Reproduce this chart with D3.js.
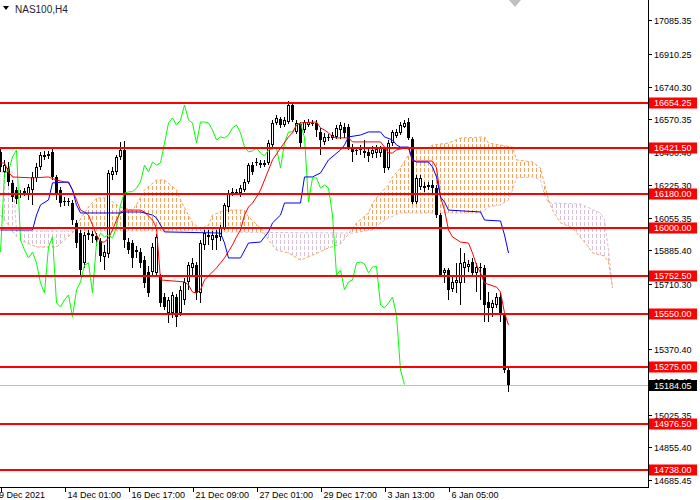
<!DOCTYPE html>
<html><head><meta charset="utf-8">
<script src="https://cdn.jsdelivr.net/npm/d3@7"></script>
<style>
html,body{margin:0;padding:0;background:#fff;}
svg{display:block;font-family:"Liberation Sans",Arial,sans-serif;}
</style></head><body>
<script>
// NAS100 H4 candles (bar index 0..127)
var barOpen  = [16399,16294,16315,16237,16200,16174,16184,16174,16200,16263,16320,16372,16378,16399,16268,16200,16137,16143,16132,16028,
                15975,15819,15965,15970,15960,15934,15850,15866,16278,16294,16372,16409,15928,15923,15887,15876,15834,15772,15772,15767,
                15746,15641,15558,15558,15641,15558,15626,15720,15793,15808,15662,15913,15965,15939,15965,15955,16002,16111,16184,16190,
                16184,16200,16242,16330,16341,16341,16330,16341,16435,16550,16571,16539,16555,16644,16503,16545,16513,16539,16545,16550,
                16503,16451,16477,16472,16477,16513,16529,16529,16424,16409,16409,16404,16399,16388,16393,16393,16414,16315,16445,16482,
                16498,16529,16555,16466,16137,16216,16221,16216,16226,16210,16069,15767,15782,15683,15714,15714,15793,15798,15824,15767,
                15798,15793,15615,15584,15599,15641,15547,15260];
var barHigh  = [16419,16357,16346,16252,16216,16200,16210,16231,16294,16341,16399,16404,16404,16419,16278,16216,16163,16158,16148,16043,
                15991,15981,15991,15986,15975,15949,15913,16304,16320,16383,16451,16456,15949,15939,15908,15897,15855,15803,15923,15970,
                15761,15662,15641,15667,15657,15699,15740,15824,15845,15824,15939,15991,15991,15986,15991,16017,16132,16200,16210,16205,
                16226,16258,16341,16346,16367,16357,16357,16461,16565,16591,16581,16581,16665,16659,16565,16555,16565,16571,16565,16565,
                16524,16498,16492,16503,16539,16555,16550,16545,16440,16424,16435,16461,16419,16430,16435,16430,16424,16461,16513,16518,
                16555,16565,16576,16477,16278,16278,16242,16242,16252,16226,16080,15793,15793,15756,15819,15897,15871,15834,15845,15819,
                15819,15808,15667,15626,15662,15662,15558,15270];
var barLow   = [16294,16268,16221,16137,16127,16158,16169,16148,16122,16242,16304,16357,16362,16252,16148,16111,16116,16116,16017,15897,
                15751,15793,15939,15923,15908,15824,15782,15845,16252,16278,16357,15897,15866,15793,15845,15793,15688,15641,15756,15751,
                15589,15573,15505,15532,15484,15542,15599,15678,15756,15626,15610,15887,15913,15887,15887,15934,15991,16085,16169,16174,
                16163,16190,16231,16278,16325,16315,16320,16330,16424,16539,16524,16529,16545,16555,16492,16424,16498,16529,16534,16477,
                16383,16435,16456,16461,16466,16466,16472,16409,16346,16383,16383,16367,16346,16367,16367,16372,16289,16304,16430,16472,
                16487,16524,16461,16127,16127,16200,16190,16200,16184,16054,15751,15714,15626,15667,15662,15599,15714,15772,15751,15667,
                15626,15511,15511,15537,15584,15511,15244,15145];
var barClose = [16320,16330,16242,16163,16153,16184,16195,16216,16268,16320,16383,16383,16388,16268,16174,16132,16143,16137,16043,15923,
                15782,15965,15975,15960,15939,15855,15876,16289,16299,16372,16409,15939,15887,15845,15876,15819,15714,15662,15902,15955,
                15610,15589,15626,15652,15537,15678,15720,15808,15819,15662,15923,15975,15955,15965,15949,16007,16122,16184,16190,16191,
                16210,16242,16330,16294,16346,16330,16341,16445,16550,16576,16539,16565,16644,16565,16550,16445,16555,16555,16550,16513,
                16461,16477,16472,16487,16524,16539,16498,16424,16399,16404,16419,16393,16378,16409,16414,16419,16315,16445,16503,16503,
                16539,16550,16472,16137,16263,16263,16210,16226,16210,16069,15756,15782,15678,15720,15730,15819,15824,15814,15767,15798,
                15800,15599,15584,15610,15641,15547,15260,15184.05];

// Ichimoku lines: [bar, price]
var tenkan = [[0,16341],[1,16341],[2,16294],[3,16268],[8,16263],[12,16268],[14,16252],[16,16242],[17,16237],[18,16200],[19,16148],
              [20,16095],[21,16085],[22,16069],[23,16017],[24,15965],[25,15928],[26,15928],[27,15949],[28,15991],[29,16043],[30,16085],
              [31,16095],[35,16095],[36,16085],[38,16043],[39,16002],[40,15730],[46,15720],[47,15704],[48,15667],[49,15662],[50,15678],
              [51,15730],[52,15751],[54,15793],[56,15845],[58,15913],[59,15955],[60,15991],[61,16069],[62,16111],[63,16132],[64,16163],
              [65,16200],[66,16252],[67,16304],[68,16357],[70,16419],[72,16477],[73,16498],[74,16539],[75,16550],[79,16555],[80,16524],
              [81,16513],[82,16498],[83,16477],[84,16472],[87,16472],[88,16451],[95,16451],[96,16424],[97,16393],[98,16393],[99,16409],
              [101,16419],[102,16419],[103,16351],[108,16351],[109,16315],[110,16163],[111,16095],[112,15991],[113,15955],[115,15928],
              [117,15923],[118,15871],[119,15808],[120,15767],[121,15714],[124,15693],[125,15667],[126,15558],[127,15495]];
var kijun  = [[0,15991],[8,15991],[9,16069],[10,16122],[12,16148],[13,16237],[17,16242],[18,16200],[19,16122],[20,16080],[30,16080],
              [31,16085],[35,16085],[36,16080],[38,16069],[39,16054],[40,16017],[41,15981],[55,15975],[56,15923],[57,15845],[60,15845],
              [62,15923],[65,15928],[67,15981],[68,16028],[70,16069],[71,16132],[75,16132],[76,16268],[78,16268],[80,16289],[82,16357],
              [85,16409],[86,16435],[87,16477],[90,16487],[92,16503],[95,16503],[96,16477],[98,16461],[99,16435],[100,16424],[102,16424],
              [103,16357],[104,16346],[107,16346],[108,16320],[109,16268],[110,16163],[111,16137],[112,16095],[120,16085],[121,16043],
              [125,16038],[126,15965],[127,15871]];
var spanA  = [[0,16069],[2,16017],[3,15981],[5,15939],[9,15902],[14,15902],[16,15939],[18,15975],[19,16017],[22,16111],[24,16158],
              [27,16158],[28,16137],[30,16111],[33,16095],[34,16122],[36,16200],[39,16252],[41,16252],[44,16200],[45,16148],[48,16028],
              [50,15996],[52,16017],[53,16069],[56,16095],[61,16095],[62,16059],[65,16002],[67,15939],[69,15887],[72,15871],[75,15834],
              [78,15860],[82,15897],[85,15918],[87,15970],[89,16028],[92,16080],[93,16132],[95,16184],[97,16226],[98,16268],[100,16315],
              [102,16383],[103,16414],[107,16419],[108,16435],[112,16445],[115,16471],[121,16477],[122,16445],[128,16424],[129,16357],
              [133,16346],[135,16315],[137,16148],[138,16095],[140,16028],[143,16002],[147,15902],[148,15871],[151,15855],[152,15824],
              [153,15688]];
var spanB  = [[0,16294],[3,16294],[4,15986],[50,15986],[51,15981],[88,15975],[93,15991],[95,16028],[97,16054],[100,16080],
              [120,16080],[122,16111],[125,16122],[127,16148],[128,16200],[129,16263],[133,16268],[135,16252],[136,16174],[137,16132],
              [145,16127],[150,16080],[151,16043],[152,15887],[153,15688]];

// horizontal levels and axis texts (15540.35 sits fully under the 15550.00 label, so it is left out)
var levels     = [16654.25, 16421.50, 16180.00, 16000.00, 15752.50, 15550.00, 15275.00, 14976.50, 14738.00];
var lastPrice  = 15184.05;
var priceTicks = [17085.35, 16910.25, 16740.30, 16570.35, 16400.40, 16225.30, 16055.35, 15885.40, 15710.30,
                  15370.40, 15200.45, 15025.35, 14855.40, 14685.45];
var timeBars   = [0, 16, 32, 48, 64, 80, 96, 112];
var timeLabels = ["9 Dec 2021", "14 Dec 01:00", "16 Dec 17:00", "21 Dec 09:00", "27 Dec 01:00",
                  "29 Dec 17:00", "3 Jan 13:00", "6 Jan 05:00"];

var W = 700, H = 500, plotW = 648, plotH = 487;

var x = d3.scaleLinear().domain([-0.125, 161.875]).range([0, plotW]);
var y = d3.scaleLinear().domain([14649, 17192]).range([plotH, 0]);

var svg = d3.select("body").append("svg").attr("width", W).attr("height", H);

var defs = svg.append("defs");
function hatch(id, col) {
    var p = defs.append("pattern").attr("id", id).attr("patternUnits", "userSpaceOnUse")
        .attr("width", 4).attr("height", 6);
    p.append("line").attr("x1", 0.5).attr("x2", 0.5).attr("y1", 0).attr("y2", 4)
        .attr("stroke", col).attr("stroke-width", 1);
}
hatch("hUp", "#F4A460");
hatch("hDn", "#D8BFD8");
defs.append("clipPath").attr("id", "plot").append("rect").attr("width", plotW).attr("height", plotH);

var line = d3.line().x(function(d){ return x(d[0]); }).y(function(d){ return y(d[1]); });

// cloud: region between span A and span B, split by which one is on top
var between = line(spanA) + "L" + line(spanB.slice().reverse()).slice(1) + "Z";
var bEnd = spanB[spanB.length-1][0], bStart = spanB[0][0];
defs.append("clipPath").attr("id", "aboveB").append("path")
    .attr("d", line(spanB) + "L" + x(bEnd) + ",0L" + x(bStart) + ",0Z");
defs.append("clipPath").attr("id", "belowB").append("path")
    .attr("d", line(spanB) + "L" + x(bEnd) + "," + plotH + "L" + x(bStart) + "," + plotH + "Z");

var g = svg.append("g").attr("clip-path", "url(#plot)");
g.append("g").attr("clip-path", "url(#aboveB)").append("path").attr("d", between).attr("fill", "url(#hUp)");
g.append("g").attr("clip-path", "url(#belowB)").append("path").attr("d", between).attr("fill", "url(#hDn)");
g.append("path").attr("d", line(spanA)).attr("fill", "none").attr("stroke", "#F4A460").attr("stroke-dasharray", "3,2");
g.append("path").attr("d", line(spanB)).attr("fill", "none").attr("stroke", "#D8BFD8").attr("stroke-dasharray", "3,2");

// current price line
g.append("line").attr("x1", 0).attr("x2", plotW)
    .attr("y1", Math.round(y(lastPrice)) + 0.5).attr("y2", Math.round(y(lastPrice)) + 0.5)
    .attr("stroke", "#C0C0C0");

// candles
var cg = g.append("g").attr("shape-rendering", "crispEdges");
barClose.forEach(function(c, i) {
    var o = barOpen[i], cx = Math.round(x(i) - 0.5) + 0.5;
    var top = Math.round(y(Math.max(o, c))), bot = Math.round(y(Math.min(o, c)));
    cg.append("line").attr("x1", cx).attr("x2", cx)
        .attr("y1", Math.round(y(barHigh[i]))).attr("y2", Math.round(y(barLow[i])))
        .attr("stroke", "#000");
    if (bot - top < 2) {
        cg.append("rect").attr("x", cx - 1.5).attr("width", 3).attr("y", top).attr("height", Math.max(1, bot - top)).attr("fill", "#000");
    } else if (c >= o) {
        cg.append("rect").attr("x", cx - 1).attr("width", 2).attr("y", top + 0.5).attr("height", bot - top - 1)
            .attr("fill", "#fff").attr("stroke", "#000");
    } else {
        cg.append("rect").attr("x", cx - 1.5).attr("width", 3).attr("y", top).attr("height", bot - top).attr("fill", "#000");
    }
});

// ichimoku lines
var chikou = barClose.slice(26).map(function(c, i){ return [i, c]; });
g.append("path").attr("d", line(chikou)).attr("fill", "none").attr("stroke", "#00FF00");
g.append("path").attr("d", line(tenkan)).attr("fill", "none").attr("stroke", "#FF0000");
g.append("path").attr("d", line(kijun)).attr("fill", "none").attr("stroke", "#0000FF");

// horizontal levels
g.selectAll(".lvl").data(levels).enter().append("line")
    .attr("x1", 0).attr("x2", plotW)
    .attr("y1", function(d){ return Math.round(y(d)); }).attr("y2", function(d){ return Math.round(y(d)); })
    .attr("stroke", "#FF0000").attr("stroke-width", 2);

// frame
svg.append("line").attr("x1", plotW + 0.5).attr("x2", plotW + 0.5).attr("y1", 0).attr("y2", plotH + 1).attr("stroke", "#000");
svg.append("line").attr("x1", 0).attr("x2", plotW + 1).attr("y1", plotH + 0.5).attr("y2", plotH + 0.5).attr("stroke", "#000");

// price axis
var ax = svg.append("g").attr("font-size", 9);
priceTicks.forEach(function(v) {
    var yy = Math.round(y(v)) + 0.5;
    ax.append("line").attr("x1", plotW).attr("x2", plotW + 4).attr("y1", yy).attr("y2", yy).attr("stroke", "#000");
    ax.append("text").attr("x", 654).attr("y", yy).attr("dy", "0.35em").attr("fill", "#000").text(d3.format(".2f")(v));
});
levels.forEach(function(v) {
    var yy = Math.round(y(v));
    ax.append("rect").attr("x", 649).attr("y", yy - 5.5).attr("width", 48).attr("height", 11).attr("fill", "#FF0000");
    ax.append("text").attr("x", 654).attr("y", yy).attr("dy", "0.35em").attr("fill", "#fff").text(d3.format(".2f")(v));
});
var ly = Math.round(y(lastPrice));
ax.append("rect").attr("x", 649).attr("y", ly - 5).attr("width", 48).attr("height", 11).attr("fill", "#000");
ax.append("text").attr("x", 654).attr("y", ly + 0.5).attr("dy", "0.35em").attr("fill", "#fff").text(d3.format(".2f")(lastPrice));

// time axis
var tx = svg.append("g").attr("font-size", 9);
timeBars.forEach(function(b, k) {
    var xx = Math.round(x(b)) + 0.5;
    tx.append("line").attr("x1", xx).attr("x2", xx).attr("y1", plotH).attr("y2", plotH + 5).attr("stroke", "#000");
    tx.append("text").attr("x", k === 0 ? -1 : xx + 2).attr("y", 498).attr("fill", "#000").text(timeLabels[k]);
});

// title and chart shift marker
svg.append("path").attr("d", "M3,6L9,6L6,10Z").attr("fill", "#000");
svg.append("text").attr("x", 15).attr("y", 13).attr("font-size", 10).attr("fill", "#1b2433").text("NAS100,H4");
svg.append("path").attr("d", "M509,0L521,0L515,7Z").attr("fill", "#c0c0c0");
</script>
</body></html>
